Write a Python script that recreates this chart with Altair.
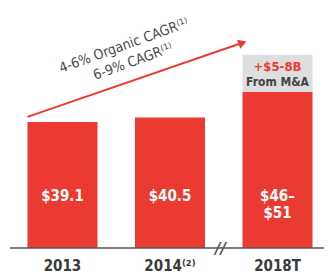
import altair as alt
import pandas as pd

categories = ["2013", "2014⁽²⁾", "2018T"]
revenue = [39.1, 40.5, 48.5]
bar_labels = ["$39.1", "$40.5", "$46–\n$51"]
ma_top = 60.0
ma_labels = ["+$5-8B", "From M&A"]
arrow_cats = ["2013", "2018T"]
arrow_vals = [40.7, 63.7]
cagr_lines = ["4-6% Organic CAGR⁽¹⁾", "6-9% CAGR⁽¹⁾"]

RED = "#EA3A31"
GRAY_BOX = "#DCDEDF"
DARK = "#3A3A3A"
FONT = "Liberation Sans Narrow, DejaVu Sans Condensed, Liberation Sans, sans-serif"

bars_df = pd.DataFrame({"cat": categories, "value": revenue, "label": bar_labels})
ma_df = pd.DataFrame({"cat": [categories[2]], "base": [revenue[2]], "top": [ma_top]})
arrow_df = pd.DataFrame({"cat": arrow_cats, "v": arrow_vals})
head_df = arrow_df.iloc[[1]]

xscale = alt.Scale(domain=categories, paddingInner=0.349, paddingOuter=0.144, align=0.629)
yscale = alt.Scale(domain=[0, 74.5])

x = alt.X("cat:N", scale=xscale, sort=categories,
          axis=alt.Axis(title=None, domain=False, ticks=False, labelAngle=0,
                        labelFontSize=15, labelColor=DARK, labelFont=FONT,
                        labelFontWeight=600, labelPadding=10))
y = alt.Y("value:Q", scale=yscale, axis=None)

bars = alt.Chart(bars_df).mark_bar(color=RED).encode(x=x, y=y, y2=alt.datum(0))

ma = alt.Chart(ma_df).mark_bar(color=GRAY_BOX).encode(
    x=alt.X("cat:N", scale=xscale, sort=categories),
    y=alt.Y("base:Q", scale=yscale), y2="top:Q")

bar_text = alt.Chart(bars_df).mark_text(
    color="white", fontSize=15, fontWeight="bold", font=FONT,
    lineBreak="\n", lineHeight=17, baseline="middle").encode(
    x=alt.X("cat:N", scale=xscale, sort=categories), y=alt.value(188), text="label:N")

ma_t1 = alt.Chart(ma_df).mark_text(color=RED, fontSize=13, fontWeight="bold", font=FONT).encode(
    x=alt.X("cat:N", scale=xscale, sort=categories), y=alt.value(59), text=alt.value(ma_labels[0]))
ma_t2 = alt.Chart(ma_df).mark_text(color="#444444", fontSize=12, fontWeight="bold", font=FONT).encode(
    x=alt.X("cat:N", scale=xscale, sort=categories), y=alt.value(74), text=alt.value(ma_labels[1]))

arrow = alt.Chart(arrow_df).mark_line(color=RED, strokeWidth=2).encode(
    x=alt.X("cat:N", scale=xscale, sort=categories, bandPosition=0),
    y=alt.Y("v:Q", scale=yscale))
head = alt.Chart(head_df).mark_point(shape="triangle-right", filled=True, color=RED,
                                     opacity=1, size=90, angle=340).encode(
    x=alt.X("cat:N", scale=xscale, sort=categories, bandPosition=0),
    y=alt.Y("v:Q", scale=yscale))

cagr1 = alt.Chart(bars_df.iloc[[0]]).mark_text(
    angle=340, fontSize=14, fontWeight=500, color="#4A4A4A", font=FONT).encode(
    x=alt.value(116), y=alt.value(38), text=alt.value(cagr_lines[0]))
cagr2 = alt.Chart(bars_df.iloc[[0]]).mark_text(
    angle=340, fontSize=14, fontWeight=500, color="#4A4A4A", font=FONT).encode(
    x=alt.value(125), y=alt.value(54), text=alt.value(cagr_lines[1]))

baseline = alt.Chart(bars_df.iloc[[0]]).mark_rule(color="#555555", strokeWidth=1.5).encode(
    x=alt.value(2), x2=alt.value(316), y=alt.value(240))

brk = alt.Chart(head_df).mark_text(
    text="//", fontSize=15, fontWeight="bold", fontStyle="italic", color="#555555",
    dx=-22, baseline="middle", font="DejaVu Sans").encode(
    x=alt.X("cat:N", scale=xscale, sort=categories, bandPosition=0), y=alt.value(241))

chart = alt.layer(bars, ma, bar_text, ma_t1, ma_t2, arrow, head, cagr1, cagr2, baseline, brk).properties(
    width=316, height=240,
    autosize=alt.AutoSizeParams(type="none"),
    padding={"left": 0, "top": 0, "right": 0, "bottom": 28},
).configure_view(stroke=None)

chart.save("out.html", embed_options={"renderer": "svg", "actions": False})
